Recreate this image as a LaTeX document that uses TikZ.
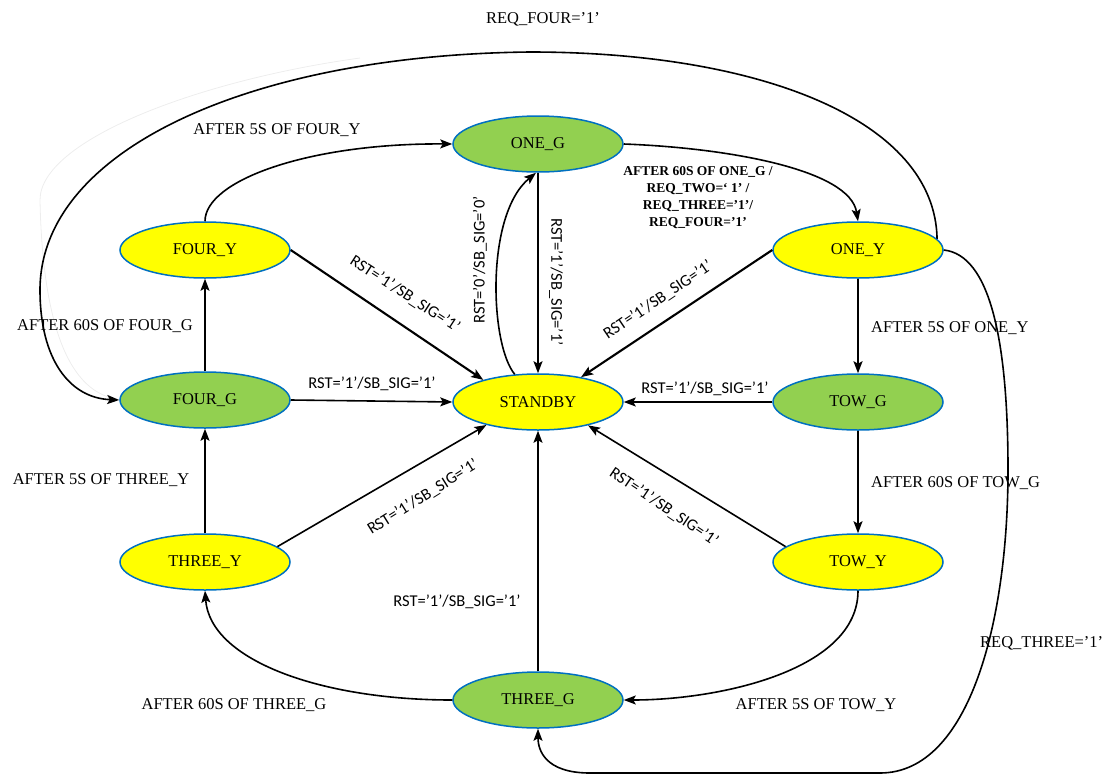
\documentclass[tikz,border=0pt]{standalone}
\usepackage{fontspec}
\setmainfont{Liberation Serif}
\newfontfamily\calib{Carlito}
\usetikzlibrary{arrows.meta,shapes.geometric}
\definecolor{stgreen}{HTML}{92D050}
\definecolor{styellow}{HTML}{FFFF00}
\definecolor{stborder}{HTML}{0070C0}
\begin{document}
\begin{tikzpicture}[x=1pt,y=1pt,
 state/.style={ellipse, draw=stborder, line width=1.5pt, minimum width=170pt, minimum height=56pt, inner sep=0pt, font=\fontsize{16.5}{19}\selectfont},
 gstate/.style={state, fill=stgreen},
 ystate/.style={state, fill=styellow},
 edge/.style={line width=1.6pt, -{Stealth[length=12pt,width=9pt,inset=2.5pt]}},
 thick edge/.style={edge, line width=2.1pt},
 lbl/.style={font=\fontsize{16.5}{19}\selectfont, inner sep=0pt},
 boldlbl/.style={font=\bfseries\fontsize{13.5}{17}\selectfont, inner sep=0pt},
 rst/.style={font=\calib\fontsize{16.5}{19}\selectfont, inner sep=0pt},
]
\useasboundingbox (0,0) rectangle (1106,-774);

% faint ghost stroke
\draw[black!7, line width=0.8pt] (360,-58) .. controls (200,-80) and (40,-140) .. (40,-200) .. controls (42,-300) and (60,-385) .. (112,-398);

% states
\node[gstate] (ONEG) at (538,-144) {ONE\_G};
\node[ystate] (ONEY) at (858,-250) {ONE\_Y};
\node[gstate] (TOWG) at (858,-402) {TOW\_G};
\node[ystate] (TOWY) at (858,-562) {TOW\_Y};
\node[gstate] (THREEG) at (538,-700) {THREE\_G};
\node[ystate] (THREEY) at (205,-562) {THREE\_Y};
\node[gstate] (FOURG) at (205,-400) {FOUR\_G};
\node[ystate] (FOURY) at (205,-250) {FOUR\_Y};
\node[ystate] (SB) at (538,-402) {STANDBY};

% cycle transitions
\draw[edge] (FOURY.north) .. controls (205,-180) and (310,-143) .. (ONEG.west);
\draw[edge] (ONEG.east) .. controls (730,-148) and (850,-170) .. (ONEY.north);
\draw[thick edge] (ONEY.south) -- (TOWG.north);
\draw[edge] (TOWG.south) -- (TOWY.north);
\draw[edge] (TOWY.south) .. controls (858,-670) and (720,-700) .. (THREEG.east);
\draw[edge] (THREEG.west) .. controls (320,-700) and (210,-660) .. (THREEY.south);
\draw[edge] (THREEY.north) -- (FOURG.south);
\draw[edge] (FOURG.north) -- (FOURY.south);

% long request arcs
\draw[edge] (ONEY.8) .. controls (935,-120) and (760,-52) .. (530,-52) .. controls (250,-55) and (40,-150) .. (40,-290) .. controls (40,-360) and (70,-398) .. (FOURG.west);
\draw[edge] (ONEY.east) .. controls (990,-255) and (1008,-340) .. (1008,-470) .. controls (1008,-620) and (970,-773) .. (880,-773) -- (590,-773) .. controls (545,-773) and (538,-750) .. (THREEG.south);

% standby transitions
\draw[thick edge] (FOURY.east) -- (SB.158);
\draw[edge] (FOURG.east) -- (SB.west);
\draw[edge] (THREEY.12) -- (SB.204);
\draw[edge] (THREEG.north) -- (SB.south);
\draw[edge] (TOWY.168) -- (SB.335);
\draw[edge] (TOWG.west) -- (SB.east);
\draw[thick edge] (ONEY.west) -- (SB.30);
\draw[edge] (ONEG.south) -- (SB.north);
\draw[edge] (SB.130) .. controls (490,-345) and (485,-215) .. (ONEG.266);

% labels
\node[lbl] (lreqfour) at (543,-19) {REQ\_FOUR=’1’};
\node[lbl] (l5fy) at (277,-130) {AFTER 5S OF FOUR\_Y};
\node[boldlbl] (l60oga) at (698,-172) {AFTER 60S OF ONE\_G /};
\node[boldlbl] (l60ogb) at (698,-189) {REQ\_TWO=‘ 1’ /};
\node[boldlbl] (l60ogc) at (698,-206) {REQ\_THREE=’1’/};
\node[boldlbl] (l60ogd) at (698,-223) {REQ\_FOUR=’1’};
\node[lbl, anchor=west] (l5oy) at (871,-328) {AFTER 5S OF ONE\_Y};
\node[lbl, anchor=west] (l60tg) at (871,-483) {AFTER 60S OF TOW\_G};
\node[lbl] (l60fg) at (105,-326) {AFTER 60S OF FOUR\_G};
\node[lbl] (l5ty) at (101,-480) {AFTER 5S OF THREE\_Y};
\node[lbl] (l60thg) at (234,-705) {AFTER 60S OF THREE\_G};
\node[lbl] (l5twy) at (816,-705) {AFTER 5S OF TOW\_Y};
\node[lbl, anchor=west] (lreqthree) at (980,-643) {REQ\_THREE=’1’};

\node[rst, rotate=-33] (r1) at (405,-294) {RST=’1’/SB\_SIG=’1’};
\node[rst] (r2) at (372,-384) {RST=’1’/SB\_SIG=’1’};
\node[rst, rotate=32] (r3) at (423,-497) {RST=’1’/SB\_SIG=’1’};
\node[rst] (r4) at (457,-602) {RST=’1’/SB\_SIG=’1’};
\node[rst, rotate=-34] (r5) at (664,-507) {RST=’1’/SB\_SIG=’1’};
\node[rst] (r6) at (705,-389) {RST=’1’/SB\_SIG=’1’};
\node[rst, rotate=34] (r7) at (658,-300) {RST=’1’/SB\_SIG=’1’};
\node[rst, rotate=-90] (r8) at (556,-282) {RST=’1’/SB\_SIG=’1’};
\node[rst, rotate=90] (r9) at (480,-260) {RST=’0’/SB\_SIG=’0’};
\end{tikzpicture}
\end{document}
